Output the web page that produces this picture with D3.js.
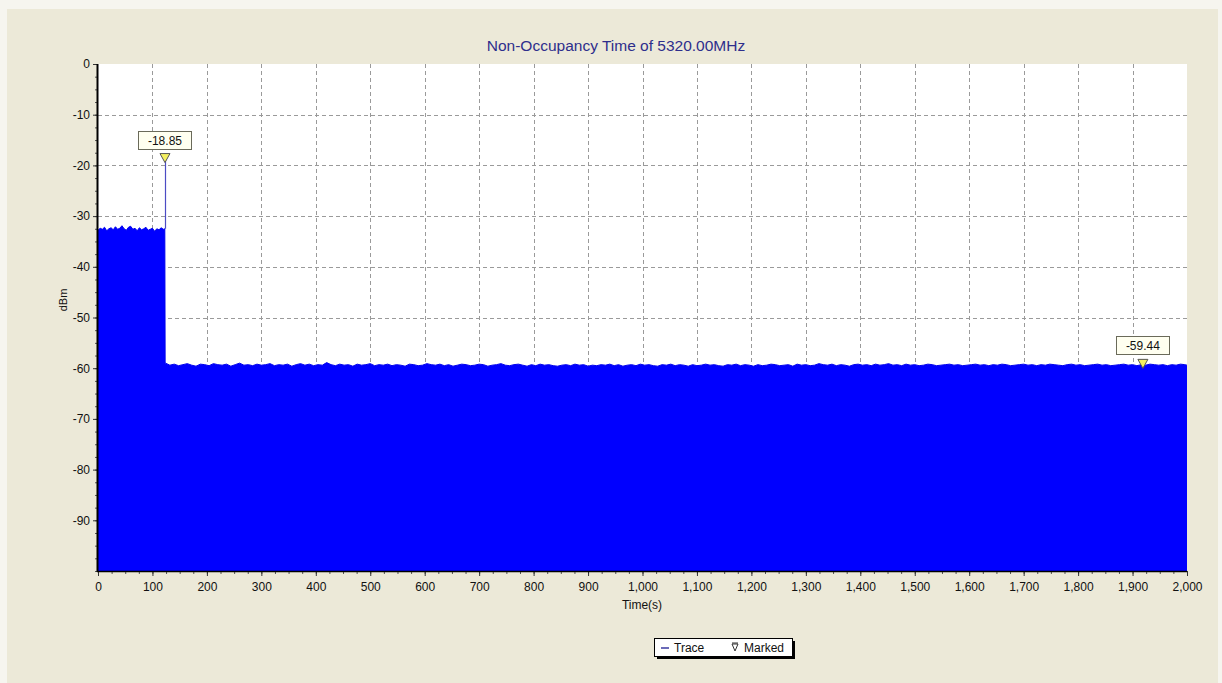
<!DOCTYPE html>
<html>
<head>
<meta charset="utf-8">
<script src="https://cdn.jsdelivr.net/npm/d3@7/dist/d3.min.js"></script>
<style>
  html, body { margin: 0; padding: 0; background: #f6f5ef; }
  svg { display: block; }
  text { font-family: "Liberation Sans", Arial, sans-serif; }
</style>
</head>
<body>
<svg id="chart" width="1222" height="683"></svg>
<script>
// ---------------- DATA ----------------
const chartTitle = "Non-Occupancy Time of 5320.00MHz";
const xLabel = "Time(s)";
const yLabel = "dBm";
const xTicks = [0,100,200,300,400,500,600,700,800,900,1000,1100,1200,1300,1400,1500,1600,1700,1800,1900,2000];
const yTicks = [0,-10,-20,-30,-40,-50,-60,-70,-80,-90];

// Segment 1: before the burst, samples every 4 s from 0 s
const seg1Start = 0, seg1Step = 4;
const seg1Values = [-32.8,-32.4,-32.6,-32.2,-32.9,-32.5,-32.3,-32.7,-32.1,-32.6,
  -32.4,-31.9,-32.5,-32.8,-32.2,-32.0,-32.6,-32.4,-32.9,-32.3,
  -32.7,-32.5,-32.2,-32.8,-32.6,-32.4,-33.0,-32.5,-32.7,-32.3,-32.6];

// Segment 2: after the burst, samples every 8 s from 124 s
const seg2Start = 124, seg2Step = 8;
const seg2Values = [
  -59.0,-59.4,-59.2,-59.5,-59.3,-59.1,-59.4,-59.6,-59.2,-59.3,
  -59.5,-59.1,-59.3,-59.4,-59.2,-59.6,-59.3,-59.0,-59.4,-59.3,
  -59.5,-59.2,-59.4,-59.3,-59.1,-59.5,-59.3,-59.4,-59.2,-59.6,
  -59.3,-59.1,-59.4,-59.2,-59.5,-59.3,-59.4,-58.9,-59.3,-59.5,
  -59.2,-59.4,-59.3,-59.6,-59.2,-59.4,-59.3,-59.1,-59.5,-59.3,
  -59.4,-59.2,-59.5,-59.3,-59.4,-59.6,-59.2,-59.3,-59.5,-59.4,
  -59.1,-59.3,-59.4,-59.2,-59.5,-59.3,-59.6,-59.4,-59.2,-59.3,
  -59.5,-59.4,-59.2,-59.3,-59.6,-59.4,-59.3,-59.1,-59.4,-59.5,
  -59.3,-59.2,-59.4,-59.6,-59.3,-59.5,-59.2,-59.4,-59.3,-59.5,
  -59.6,-59.4,-59.3,-59.5,-59.2,-59.4,-59.3,-59.6,-59.4,-59.5,
  -59.3,-59.4,-59.2,-59.5,-59.3,-59.6,-59.4,-59.3,-59.5,-59.2,
  -59.4,-59.3,-59.5,-59.6,-59.3,-59.4,-59.2,-59.5,-59.3,-59.4,
  -59.6,-59.3,-59.5,-59.4,-59.2,-59.4,-59.3,-59.5,-59.6,-59.3,
  -59.4,-59.2,-59.5,-59.3,-59.4,-59.6,-59.3,-59.5,-59.4,-59.2,
  -59.3,-59.5,-59.4,-59.3,-59.6,-59.2,-59.4,-59.3,-59.5,-59.4,
  -59.1,-59.3,-59.4,-59.2,-59.5,-59.3,-59.4,-59.6,-59.3,-59.2,
  -59.4,-59.3,-59.5,-59.2,-59.4,-59.3,-59.1,-59.4,-59.3,-59.5,
  -59.2,-59.4,-59.3,-59.5,-59.4,-59.2,-59.3,-59.5,-59.4,-59.3,
  -59.2,-59.4,-59.3,-59.5,-59.4,-59.3,-59.2,-59.4,-59.3,-59.5,
  -59.3,-59.4,-59.2,-59.3,-59.5,-59.4,-59.3,-59.2,-59.4,-59.3,
  -59.5,-59.3,-59.4,-59.2,-59.3,-59.4,-59.5,-59.3,-59.2,-59.4,
  -59.3,-59.5,-59.4,-59.3,-59.2,-59.4,-59.3,-59.5,-59.4,-59.3,
  -59.2,-59.4,-59.3,-59.5,-59.3,-59.4,-59.2,-59.3,-59.4,-59.3,
  -59.5,-59.3,-59.4,-59.2,-59.3,-59.4
];

// Burst spike and markers
const spikeTime = 123, spikeBase = -32.5;
const markerTimes = [123, 1919];
const markerValues = [-18.85, -59.44];
const markerLabels = ["-18.85", "-59.44"];
const legendItems = ["Trace", "Marked"];

// ---------------- LAYOUT ----------------
const svg = d3.select("#chart");
const W = 1222, H = 683;
const plot = {left: 98, right: 1187, top: 64, bottom: 571};

svg.append("rect").attr("x", 0).attr("y", 0).attr("width", W).attr("height", H).attr("fill", "#f6f5ef");
svg.append("rect").attr("x", 7).attr("y", 9).attr("width", 1211).attr("height", 674).attr("fill", "#ece9d8");

const x = d3.scaleLinear().domain([0, 2000]).range([plot.left, plot.right]);
const y = d3.scaleLinear().domain([-100, 0]).range([plot.bottom, plot.top]);

// plot background
svg.append("rect").attr("x", plot.left).attr("y", plot.top)
  .attr("width", plot.right - plot.left).attr("height", plot.bottom - plot.top)
  .attr("fill", "#ffffff");

// grid
const grid = svg.append("g").attr("stroke", "#9a9a9a").attr("stroke-dasharray", "4,3").attr("stroke-width", 1);
grid.selectAll("line.v").data(xTicks.filter(d => d > 0 && d < 2000)).join("line")
  .attr("x1", d => Math.round(x(d)) + 0.5).attr("x2", d => Math.round(x(d)) + 0.5)
  .attr("y1", plot.top).attr("y2", plot.bottom);
grid.selectAll("line.h").data(yTicks.filter(d => d < 0)).join("line")
  .attr("y1", d => Math.round(y(d)) + 0.5).attr("y2", d => Math.round(y(d)) + 0.5)
  .attr("x1", plot.left).attr("x2", plot.right);

// trace data
const trace = [];
seg1Values.forEach((v, i) => trace.push([seg1Start + i * seg1Step, v]));
trace.push([spikeTime - 0.3, spikeBase]);
trace.push([spikeTime + 0.3, seg2Values[0]]);
seg2Values.forEach((v, i) => trace.push([Math.min(2000, seg2Start + i * seg2Step), v]));
trace.push([2000, seg2Values[seg2Values.length - 1]]);

const area = d3.area().x(d => x(d[0])).y0(y(-100)).y1(d => y(d[1]));
svg.append("path").datum(trace).attr("d", area).attr("fill", "#0000ff");
const line = d3.line().x(d => x(d[0])).y(d => y(d[1]));
svg.append("path").datum(trace).attr("d", line).attr("fill", "none").attr("stroke", "#0000ee").attr("stroke-width", 1);

// spike line
svg.append("line")
  .attr("x1", Math.round(x(spikeTime)) + 0.5).attr("x2", Math.round(x(spikeTime)) + 0.5)
  .attr("y1", y(spikeBase)).attr("y2", y(markerValues[0]))
  .attr("stroke", "#4c4cc4").attr("stroke-width", 1.2);

// axes
const xAxisG = svg.append("g").attr("transform", `translate(0,${plot.bottom})`);
xAxisG.call(d3.axisBottom(x).tickValues(d3.range(0, 2001, 25)).tickSize(3).tickFormat(""))
  .call(g => g.select(".domain").remove())
  .call(g => g.selectAll("line").attr("stroke", "#555"));
xAxisG.append("g").call(d3.axisBottom(x).tickValues(xTicks).tickSize(5).tickFormat(d3.format(",")))
  .call(g => g.select(".domain").remove())
  .call(g => g.selectAll("line").attr("stroke", "#333"))
  .call(g => g.selectAll("text").attr("font-size", 12).attr("fill", "#111").attr("dy", "1.0em")
    .attr("font-family", "Liberation Sans, Arial, sans-serif"));

const yAxisG = svg.append("g").attr("transform", `translate(${plot.left},0)`);
yAxisG.call(d3.axisLeft(y).tickValues(d3.range(-100, 0.1, 2.5)).tickSize(3).tickFormat(""))
  .call(g => g.select(".domain").remove())
  .call(g => g.selectAll("line").attr("stroke", "#555"));
yAxisG.append("g").call(d3.axisLeft(y).tickValues(yTicks).tickSize(5).tickFormat(d => d))
  .call(g => g.select(".domain").remove())
  .call(g => g.selectAll("line").attr("stroke", "#333"))
  .call(g => g.selectAll("text").attr("font-size", 12).attr("fill", "#111").attr("x", -8)
    .attr("font-family", "Liberation Sans, Arial, sans-serif"));

// axis lines
svg.append("line").attr("x1", plot.left - 0.5).attr("x2", plot.left - 0.5)
  .attr("y1", plot.top).attr("y2", plot.bottom + 1).attr("stroke", "#000").attr("stroke-width", 2);
svg.append("line").attr("x1", plot.left - 1).attr("x2", plot.right)
  .attr("y1", plot.bottom + 0.5).attr("y2", plot.bottom + 0.5).attr("stroke", "#000").attr("stroke-width", 1.5);

// title & labels
svg.append("text").attr("x", 616).attr("y", 51).attr("text-anchor", "middle")
  .attr("font-size", 15.5).attr("fill", "#2e2e8c").text(chartTitle);
svg.append("text").attr("x", 642).attr("y", 609).attr("text-anchor", "middle")
  .attr("font-size", 12).attr("fill", "#111").text(xLabel);
svg.append("text").attr("transform", "translate(67,300) rotate(-90)").attr("text-anchor", "middle")
  .attr("font-size", 11).attr("fill", "#111").text(yLabel);

// markers
markerTimes.forEach((t, i) => {
  const mx = x(t), my = y(markerValues[i]);
  svg.append("path")
    .attr("d", `M${mx - 5},${my - 6} L${mx + 5},${my - 6} L${mx},${my + 3} Z`)
    .attr("fill", "#f4f060").attr("stroke", "#555").attr("stroke-width", 1);
  const g = svg.append("g");
  const bw = 53, bh = 18;
  g.append("rect").attr("x", Math.round(mx - bw / 2) + 0.5).attr("y", Math.round(my - 11 - bh) + 0.5)
    .attr("width", bw).attr("height", bh).attr("fill", "#fffff0").attr("stroke", "#6a6a5a");
  g.append("text").attr("x", mx).attr("y", Math.round(my - 11 - bh) + 13.5).attr("text-anchor", "middle")
    .attr("font-size", 12).attr("fill", "#111").text(markerLabels[i]);
});

// legend
const lg = svg.append("g");
const lx = 654, ly = 638, lw = 138, lh = 18;
lg.append("rect").attr("x", lx + 3).attr("y", ly + 3).attr("width", lw).attr("height", lh).attr("fill", "#000");
lg.append("rect").attr("x", lx + 0.5).attr("y", ly + 0.5).attr("width", lw).attr("height", lh)
  .attr("fill", "#fff").attr("stroke", "#000");
lg.append("line").attr("x1", lx + 7).attr("x2", lx + 15).attr("y1", ly + 10).attr("y2", ly + 10)
  .attr("stroke", "#3a3aa0").attr("stroke-width", 1.5);
lg.append("text").attr("x", lx + 20).attr("y", ly + 14).attr("font-size", 12).attr("fill", "#111").text(legendItems[0]);
lg.append("path").attr("d", `M${lx + 78},${ly + 6} L${lx + 84},${ly + 6} L${lx + 81},${ly + 13} Z`)
  .attr("fill", "#fff").attr("stroke", "#333").attr("stroke-width", 1);
lg.append("line").attr("x1", lx + 78).attr("x2", lx + 84).attr("y1", ly + 5).attr("y2", ly + 5).attr("stroke", "#333");
lg.append("text").attr("x", lx + 90).attr("y", ly + 14).attr("font-size", 12).attr("fill", "#111").text(legendItems[1]);
</script>
</body>
</html>
